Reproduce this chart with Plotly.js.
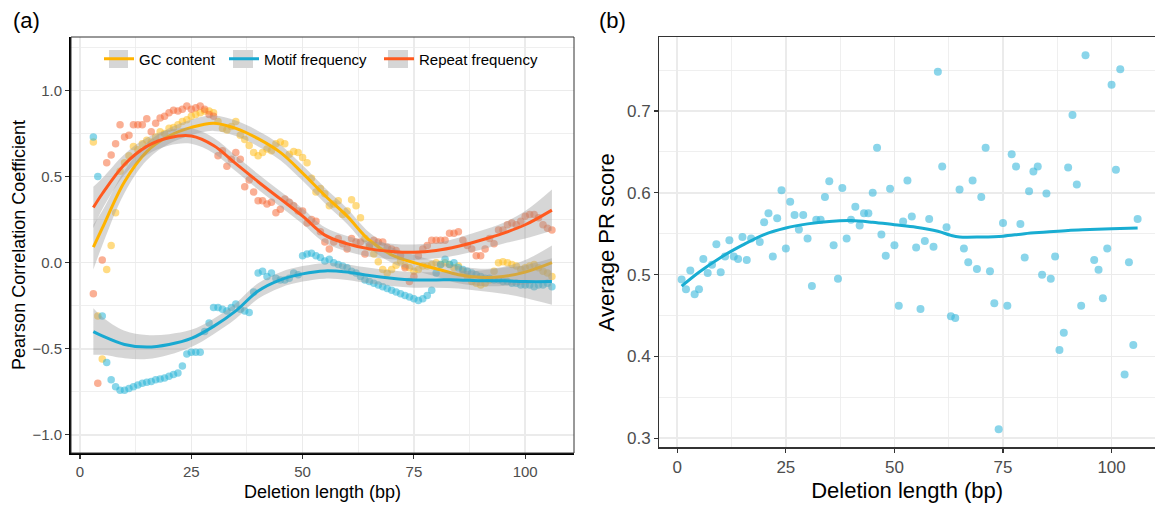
<!DOCTYPE html>
<html>
<head>
<meta charset="utf-8">
<script src="https://cdn.plot.ly/plotly-3.0.1.min.js"></script>
<style>html,body{margin:0;padding:0;background:#fff;}#chart{width:1155px;height:506px;}</style>
</head>
<body>
<div id="chart"></div>
<script>
// ---------- Panel (a) data ----------
const lenA = [3,4,5,6,7,8,9,10,11,12,13,14,15,16,17,18,19,20,21,22,23,24,25,26,27,28,29,30,31,32,33,34,35,36,37,38,39,40,41,42,43,44,45,46,47,48,49,50,51,52,53,54,55,56,57,58,59,60,61,62,63,64,65,66,67,68,69,70,71,72,73,74,75,76,77,78,79,80,81,82,83,84,85,86,87,88,89,90,91,92,93,94,95,96,97,98,99,100,101,102,103,104,105,106];
const gcContent = [0.70,-0.31,-0.56,-0.04,0.10,0.29,0.53,0.58,0.62,0.675,0.655,0.69,0.71,0.70,0.73,0.76,0.75,0.78,0.785,0.80,0.82,0.83,0.85,0.86,0.87,0.88,0.88,0.87,0.82,0.78,0.77,0.79,0.82,0.74,0.715,0.68,0.64,0.62,0.64,0.66,0.65,0.69,0.70,0.69,0.63,0.645,0.64,0.61,0.58,0.49,0.41,0.43,0.40,0.33,0.34,0.36,0.28,0.30,0.365,0.33,0.26,0.14,0.09,0.05,0.005,-0.04,-0.06,-0.04,-0.015,0.01,-0.02,-0.03,-0.05,-0.04,-0.02,-0.02,-0.01,0.0,-0.01,0.0,-0.01,-0.03,-0.02,-0.05,-0.08,-0.11,-0.12,-0.13,-0.12,-0.10,-0.05,0.0,0.005,0.0,-0.01,-0.02,-0.04,-0.03,-0.02,-0.01,-0.03,-0.05,-0.06,-0.08];
const motifFreq = [0.73,0.50,-0.31,-0.58,-0.68,-0.72,-0.74,-0.74,-0.73,-0.72,-0.71,-0.70,-0.695,-0.69,-0.68,-0.675,-0.67,-0.66,-0.65,-0.64,-0.60,-0.53,-0.52,-0.52,-0.52,-0.40,-0.35,-0.26,-0.26,-0.27,-0.28,-0.26,-0.24,-0.27,-0.28,-0.29,-0.17,-0.06,-0.05,-0.08,-0.06,-0.09,-0.10,-0.10,-0.09,-0.06,-0.07,0.04,0.05,0.055,0.04,0.03,0.01,0.02,0.0,-0.01,-0.02,-0.03,-0.05,-0.06,-0.08,-0.10,-0.11,-0.12,-0.13,-0.14,-0.15,-0.16,-0.17,-0.18,-0.19,-0.20,-0.21,-0.22,-0.21,-0.19,-0.16,-0.06,-0.01,0.02,-0.01,0.0,-0.03,-0.04,-0.05,-0.06,-0.07,-0.08,-0.09,-0.09,-0.10,-0.10,-0.11,-0.11,-0.12,-0.12,-0.13,-0.13,-0.13,-0.14,-0.13,-0.13,-0.12,-0.14];
const repeatFreq = [-0.18,-0.70,0.015,0.58,0.625,0.69,0.80,0.73,0.74,0.80,0.80,0.80,0.835,0.76,0.81,0.84,0.85,0.87,0.885,0.88,0.89,0.91,0.89,0.90,0.91,0.89,0.86,0.85,0.62,0.65,0.56,0.60,0.64,0.60,0.44,0.48,0.41,0.36,0.36,0.34,0.35,0.29,0.31,0.37,0.35,0.33,0.30,0.30,0.23,0.25,0.24,0.18,0.12,0.08,0.12,0.14,0.11,0.08,0.14,0.12,0.12,0.05,0.10,0.13,0.12,0.12,0.09,0.08,0.07,0.04,-0.03,-0.11,-0.08,0.04,0.08,0.10,0.13,0.13,0.13,0.13,0.17,0.17,0.18,0.13,0.10,0.08,0.04,0.04,0.08,0.14,0.11,0.19,0.19,0.22,0.23,0.22,0.24,0.27,0.28,0.28,0.26,0.22,0.20,0.19];

// smooth fits and their confidence half-widths
const fitX = [3,5,10,15,20,25,30,35,40,45,50,55,60,65,70,75,80,85,90,95,100,106];
const gcFit = [0.09,0.20,0.47,0.645,0.735,0.785,0.81,0.78,0.72,0.64,0.52,0.39,0.27,0.13,0.045,0.0,-0.035,-0.07,-0.085,-0.08,-0.055,0.0];
const gcSe  = [0.13,0.10,0.065,0.05,0.045,0.045,0.045,0.045,0.045,0.045,0.045,0.045,0.045,0.045,0.045,0.045,0.045,0.05,0.05,0.055,0.07,0.10];
const motifFit = [-0.40,-0.425,-0.475,-0.49,-0.475,-0.44,-0.37,-0.28,-0.165,-0.10,-0.065,-0.048,-0.055,-0.075,-0.09,-0.10,-0.10,-0.10,-0.105,-0.105,-0.11,-0.11];
const motifSe  = [0.135,0.11,0.08,0.07,0.06,0.05,0.045,0.045,0.045,0.045,0.045,0.045,0.045,0.045,0.045,0.045,0.045,0.05,0.06,0.075,0.095,0.135];
const repeatFit = [0.32,0.40,0.57,0.675,0.725,0.735,0.68,0.575,0.47,0.37,0.27,0.16,0.11,0.08,0.065,0.06,0.07,0.095,0.13,0.17,0.22,0.305];
const repeatSe  = [0.12,0.09,0.06,0.05,0.045,0.045,0.045,0.045,0.045,0.045,0.045,0.045,0.045,0.045,0.045,0.045,0.045,0.05,0.055,0.06,0.08,0.12];

const seriesNames = ['GC content','Motif frequency','Repeat frequency'];
const lineColors = ['#FFB300','#19A9D1','#FF5A1F'];
const pointColors = ['rgba(255,190,30,0.55)','rgba(40,180,215,0.55)','rgba(245,110,60,0.55)'];
const ribbonColor = 'rgba(153,153,153,0.4)';

// ---------- Panel (b) data ----------
const lenB = [1,2,3,4,5,6,7,8,9,10,11,12,13,14,15,16,17,19,20,21,22,23,24,25,26,27,28,29,30,31,32,33,34,35,36,37,38,39,40,41,42,43,44,45,46,47,48,49,50,51,52,53,54,55,56,57,58,59,60,61,62,63,64,65,66,67,68,69,70,71,72,73,74,75,76,77,78,79,80,81,82,83,84,85,86,87,88,89,90,91,92,93,94,96,97,98,99,100,101,102,103,104,105,106];
const prScore = [0.494,0.482,0.505,0.476,0.482,0.519,0.502,0.512,0.537,0.503,0.522,0.542,0.522,0.519,0.546,0.518,0.544,0.540,0.564,0.575,0.522,0.569,0.603,0.532,0.589,0.573,0.555,0.573,0.544,0.486,0.567,0.567,0.595,0.614,0.536,0.495,0.606,0.544,0.567,0.583,0.560,0.575,0.575,0.600,0.655,0.549,0.523,0.605,0.536,0.462,0.565,0.615,0.571,0.533,0.458,0.541,0.568,0.534,0.748,0.632,0.558,0.449,0.447,0.604,0.532,0.515,0.615,0.507,0.595,0.655,0.504,0.465,0.311,0.563,0.462,0.647,0.632,0.562,0.521,0.602,0.626,0.632,0.500,0.599,0.495,0.522,0.408,0.429,0.631,0.695,0.610,0.462,0.768,0.518,0.506,0.471,0.532,0.732,0.628,0.751,0.378,0.515,0.414,0.568];
const prFitX = [1,5,10,15,20,25,30,35,40,45,50,55,60,63,65,70,75,80,85,90,95,100,106];
const prFit  = [0.486,0.503,0.521,0.536,0.549,0.557,0.562,0.565,0.566,0.564,0.561,0.558,0.553,0.548,0.546,0.546,0.547,0.550,0.552,0.554,0.555,0.556,0.557];

// ---------- traces ----------
const legendIds = ['legend', 'legend2', 'legend3'];
const traces = [];
const pts = [gcContent, motifFreq, repeatFreq];
pts.forEach((ys, i) => {
  traces.push({x: lenA, y: ys, type: 'scatter', mode: 'markers', xaxis: 'x', yaxis: 'y',
    marker: {color: pointColors[i], size: 7.5}, showlegend: false, hoverinfo: 'skip'});
});
const fits = [[gcFit, gcSe], [motifFit, motifSe], [repeatFit, repeatSe]];
fits.forEach((f, i) => {
  const up = f[0].map((v, k) => v + f[1][k]);
  const lo = f[0].map((v, k) => v - f[1][k]);
  traces.push({x: fitX, y: up, type: 'scatter', mode: 'lines', line: {width: 0, shape: 'spline'},
    xaxis: 'x', yaxis: 'y', showlegend: false, hoverinfo: 'skip'});
  traces.push({x: fitX, y: lo, type: 'scatter', mode: 'lines', line: {width: 0, shape: 'spline'},
    fill: 'tonexty', fillcolor: ribbonColor, xaxis: 'x', yaxis: 'y', showlegend: false, hoverinfo: 'skip'});
  traces.push({x: fitX, y: f[0], type: 'scatter', mode: 'lines', name: seriesNames[i], legend: legendIds[i],
    line: {color: lineColors[i], width: 3, shape: 'spline'}, xaxis: 'x', yaxis: 'y'});
});
traces.push({x: lenB, y: prScore, type: 'scatter', mode: 'markers', xaxis: 'x2', yaxis: 'y2',
  marker: {color: 'rgba(60,185,220,0.6)', size: 8}, showlegend: false});
traces.push({x: prFitX, y: prFit, type: 'scatter', mode: 'lines', xaxis: 'x2', yaxis: 'y2',
  line: {color: '#19ADD2', width: 3, shape: 'spline'}, showlegend: false});

const W = 1155, H = 506;
const px = v => v / W, py = v => 1 - v / H;
const FONT = 'Liberation Sans, Arial, sans-serif';
const gridCol = '#EBEBEB';

function legendAt(xLeft) {
  return {orientation: 'h', x: px(xLeft), y: py(59), xanchor: 'left', yanchor: 'middle',
    font: {size: 15, color: '#000', family: FONT}, bgcolor: 'rgba(0,0,0,0)', itemwidth: 30, traceorder: 'normal'};
}
function keyBox(x0, x1) {
  return {type: 'rect', xref: 'paper', yref: 'paper', x0: px(x0), x1: px(x1), y0: py(68), y1: py(50),
    line: {width: 0}, fillcolor: '#D6D6D6', layer: 'above'};
}

const layout = {
  width: W, height: H, margin: {l: 0, r: 0, t: 0, b: 0},
  paper_bgcolor: '#fff', plot_bgcolor: '#fff',
  font: {family: FONT, color: '#4D4D4D'},
  showlegend: true,
  legend: legendAt(99),
  legend2: legendAt(224),
  legend3: legendAt(379),
  xaxis: {domain: [px(71), px(574)], range: [-2.02, 110.96], tickvals: [0,25,50,75,100],
    ticks: 'outside', ticklen: 4, tickcolor: '#333', tickwidth: 1.1,
    tickfont: {size: 15, color: '#4D4D4D'}, showline: true, linecolor: '#000', linewidth: 2,
    showgrid: true, gridcolor: gridCol, gridwidth: 1.6, zeroline: false,
    minor: {dtick: 12.5, tick0: 0, showgrid: true, gridcolor: gridCol, gridwidth: 0.8, ticks: ''},
    title: {text: 'Deletion length (bp)', font: {size: 18, color: '#000'}, standoff: 6}, automargin: false},
  yaxis: {domain: [py(453), py(37)], range: [-1.105, 1.31], tickvals: [-1,-0.5,0,0.5,1], tickformat: '.1f',
    ticks: 'outside', ticklen: 4, tickcolor: '#333', tickwidth: 1.1,
    tickfont: {size: 15, color: '#4D4D4D'}, showline: true, linecolor: '#000', linewidth: 2,
    showgrid: true, gridcolor: gridCol, gridwidth: 1.6, zeroline: false,
    minor: {dtick: 0.25, tick0: 0, showgrid: true, gridcolor: gridCol, gridwidth: 0.8, ticks: ''},
    title: {text: 'Pearson Correlation Coefficient', font: {size: 18, color: '#000'}, standoff: 2}, automargin: false},
  xaxis2: {domain: [px(659.3), 1], range: [-4.14, 110.0], tickvals: [0,25,50,75,100],
    ticks: 'outside', ticklen: 4, tickcolor: '#333', tickwidth: 1.1,
    tickfont: {size: 17, color: '#4D4D4D'}, showline: true, linecolor: '#333', linewidth: 1.2, mirror: true,
    showgrid: true, gridcolor: gridCol, gridwidth: 1.6, zeroline: false,
    minor: {dtick: 12.5, tick0: 0, showgrid: true, gridcolor: gridCol, gridwidth: 0.8, ticks: ''},
    title: {text: 'Deletion length (bp)', font: {size: 22, color: '#000'}, standoff: 6}, automargin: false,
    anchor: 'y2'},
  yaxis2: {domain: [py(447.3), py(37.3)], range: [0.289, 0.790], tickvals: [0.3,0.4,0.5,0.6,0.7], tickformat: '.1f',
    ticks: 'outside', ticklen: 4, tickcolor: '#333', tickwidth: 1.1,
    tickfont: {size: 17, color: '#4D4D4D'}, showline: true, linecolor: '#333', linewidth: 1.2,
    showgrid: true, gridcolor: gridCol, gridwidth: 1.6, zeroline: false,
    minor: {dtick: 0.05, tick0: 0, showgrid: true, gridcolor: gridCol, gridwidth: 0.8, ticks: ''},
    title: {text: 'Average PR score', font: {size: 22, color: '#000'}, standoff: 6}, automargin: false,
    anchor: 'x2'},
  shapes: [
    {type: 'rect', xref: 'x domain', yref: 'y domain', x0: 0, x1: 1, y0: 0, y1: 1,
      line: {color: '#333', width: 1}, fillcolor: 'rgba(0,0,0,0)', layer: 'above'},
    keyBox(109, 128), keyBox(233, 253), keyBox(388, 408)
  ],
  annotations: [
    {text: '(a)', xref: 'paper', yref: 'paper', x: px(11), y: py(6), xanchor: 'left', yanchor: 'top',
      showarrow: false, font: {size: 22, color: '#000'}},
    {text: '(b)', xref: 'paper', yref: 'paper', x: px(597), y: py(6), xanchor: 'left', yanchor: 'top',
      showarrow: false, font: {size: 22, color: '#000'}}
  ]
};

Plotly.newPlot('chart', traces, layout, {displayModeBar: false, staticPlot: true});
</script>
</body>
</html>
